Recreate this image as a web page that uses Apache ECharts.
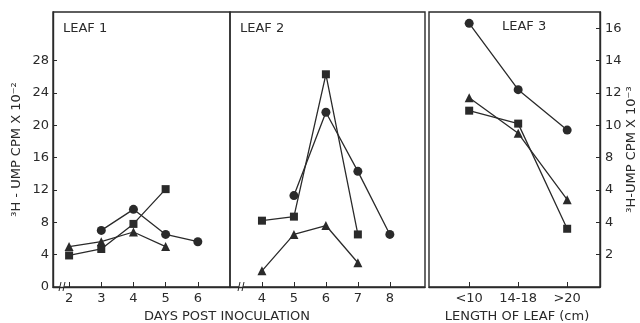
<!DOCTYPE html>
<html>
<head>
<meta charset="utf-8">
<script src="https://cdn.jsdelivr.net/npm/echarts@6/dist/echarts.min.js"></script>
<style>
  html, body { margin: 0; background: #fff; }
  #chart { width: 640px; height: 323px; }
</style>
</head>
<body>
<div id="chart"></div>
<script>
// leaf 1 : days post inoculation, left scale (CPM x 10^-2)
const leaf1Days = [2, 3, 4, 5, 6];
const leaf1Circle = [null, 7.0, 9.6, 6.5, 5.6];
const leaf1Square = [3.9, 4.7, 7.8, 12.1, null];
const leaf1Triangle = [5.0, 5.6, 6.8, 5.0, null];

// leaf 2 : days post inoculation, left scale
const leaf2Days = [4, 5, 6, 7, 8];
const leaf2Circle = [null, 11.3, 21.6, 14.3, 6.5];
const leaf2Square = [8.2, 8.7, 26.3, 6.5, null];
const leaf2Triangle = [2.0, 6.5, 7.6, 3.0, null];

// leaf 3 : length of leaf, right scale (CPM x 10^-3)
const leaf3Lengths = ["<10", "14-18", ">20"];
const leaf3Circle = [16.3, 12.2, 9.7];
const leaf3Square = [10.9, 10.1, 3.6];
const leaf3Triangle = [11.7, 9.5, 5.4];

// tick labels
const leftTicks = [0, 4, 8, 12, 16, 20, 24, 28];
const rightTicks = [2, 4, 6, 8, 10, 12, 14, 16];
const rightTickLabels = ["2", "4", "4", "8", "10", "12", "14", "16"];

const ink = "#2a2a2a";
const font = "DejaVu Sans";

const pairs = (xs, ys) =>
  xs.map((x, i) => [x, ys[i]]).filter((p) => p[1] != null);

const myChart = echarts.init(document.getElementById("chart"));

const line = (name, symbol, size, xi, data) => ({
  name,
  type: "line",
  xAxisIndex: xi,
  yAxisIndex: xi,
  symbol,
  symbolSize: size,
  data,
  lineStyle: { color: ink, width: 1.3 },
  itemStyle: { color: ink },
  animation: false,
});

const xBase = {
  type: "value",
  splitLine: { show: false },
  axisLine: { show: true, onZero: false, lineStyle: { color: ink, width: 1.4 } },
  axisTick: { show: true, inside: true, length: 5, lineStyle: { color: ink } },
  axisLabel: { color: ink, fontSize: 13, fontFamily: font, margin: 5 },
};

const options = {
  animation: false,
  grid: [
    { left: 53, top: 12, width: 177, height: 275, show: true, borderColor: ink, borderWidth: 1.4 },
    { left: 230, top: 12, width: 195, height: 275, show: true, borderColor: ink, borderWidth: 1.4 },
    { left: 429, top: 12, width: 171, height: 275, show: true, borderColor: ink, borderWidth: 1.4 },
  ],
  xAxis: [
    {
      ...xBase, gridIndex: 0, min: 1.5, max: 7,
      axisTick: { ...xBase.axisTick, customValues: leaf1Days },
      axisLabel: { ...xBase.axisLabel, customValues: leaf1Days },
    },
    {
      ...xBase, gridIndex: 1, min: 3, max: 9.1,
      axisTick: { ...xBase.axisTick, customValues: leaf2Days },
      axisLabel: { ...xBase.axisLabel, customValues: leaf2Days },
    },
    {
      ...xBase, gridIndex: 2, min: -0.82, max: 2.67,
      axisTick: { ...xBase.axisTick, customValues: [0, 1, 2] },
      axisLabel: {
        ...xBase.axisLabel,
        customValues: [0, 1, 2],
        formatter: (v) => leaf3Lengths[Math.round(v)],
      },
    },
  ],
  yAxis: [
    {
      type: "value", gridIndex: 0, min: 0, max: 34,
      splitLine: { show: false },
      axisLine: { show: true, onZero: false, lineStyle: { color: ink, width: 1.4 } },
      axisTick: { show: true, inside: true, length: 4, customValues: leftTicks, lineStyle: { color: ink } },
      axisLabel: { color: ink, fontSize: 13, fontFamily: font, margin: 4, customValues: leftTicks },
      name: "³H - UMP CPM X 10⁻²",
      nameLocation: "middle",
      nameRotate: 90,
      nameGap: 30,
      nameTextStyle: { color: ink, fontSize: 13, fontFamily: font },
    },
    { type: "value", gridIndex: 1, min: 0, max: 34, show: false },
    {
      type: "value", gridIndex: 2, min: 0, max: 17, position: "right",
      splitLine: { show: false },
      axisLine: { show: true, onZero: false, lineStyle: { color: ink, width: 1.4 } },
      axisTick: { show: true, inside: true, length: 4, customValues: rightTicks, lineStyle: { color: ink } },
      axisLabel: {
        color: ink, fontSize: 13, fontFamily: font, margin: 5,
        customValues: rightTicks,
        formatter: (v) => rightTickLabels[rightTicks.indexOf(v)],
      },
      name: "³H-UMP CPM X 10⁻³",
      nameLocation: "middle",
      nameRotate: 90,
      nameGap: 18,
      nameTextStyle: { color: ink, fontSize: 13, fontFamily: font },
    },
  ],
  graphic: [
    { type: "text", left: 63, top: 22, style: { text: "LEAF 1", fill: ink, font: "13px " + font } },
    { type: "text", left: 240, top: 22, style: { text: "LEAF 2", fill: ink, font: "13px " + font } },
    { type: "text", left: 502, top: 20, style: { text: "LEAF 3", fill: ink, font: "13px " + font } },
    { type: "text", x: 227, y: 310, style: { text: "DAYS POST INOCULATION", fill: ink, font: "13px " + font, align: "center" } },
    { type: "text", x: 517, y: 310, style: { text: "LENGTH OF LEAF (cm)", fill: ink, font: "13px " + font, align: "center" } },
    // axis break marks
    { type: "rect", shape: { x: 60, y: 283, width: 4, height: 8 }, style: { fill: "#fff" } },
    { type: "line", shape: { x1: 59, y1: 291, x2: 61, y2: 282 }, style: { stroke: ink, lineWidth: 1 } },
    { type: "line", shape: { x1: 63, y1: 291, x2: 65, y2: 282 }, style: { stroke: ink, lineWidth: 1 } },
    { type: "rect", shape: { x: 239, y: 283, width: 4, height: 8 }, style: { fill: "#fff" } },
    { type: "line", shape: { x1: 238, y1: 291, x2: 240, y2: 282 }, style: { stroke: ink, lineWidth: 1 } },
    { type: "line", shape: { x1: 242, y1: 291, x2: 244, y2: 282 }, style: { stroke: ink, lineWidth: 1 } },
  ],
  series: [
    line("leaf1 circle", "circle", 9, 0, pairs(leaf1Days, leaf1Circle)),
    line("leaf1 square", "rect", 8, 0, pairs(leaf1Days, leaf1Square)),
    line("leaf1 triangle", "triangle", 9, 0, pairs(leaf1Days, leaf1Triangle)),
    line("leaf2 circle", "circle", 9, 1, pairs(leaf2Days, leaf2Circle)),
    line("leaf2 square", "rect", 8, 1, pairs(leaf2Days, leaf2Square)),
    line("leaf2 triangle", "triangle", 9, 1, pairs(leaf2Days, leaf2Triangle)),
    line("leaf3 circle", "circle", 9, 2, pairs([0, 1, 2], leaf3Circle)),
    line("leaf3 square", "rect", 8, 2, pairs([0, 1, 2], leaf3Square)),
    line("leaf3 triangle", "triangle", 9, 2, pairs([0, 1, 2], leaf3Triangle)),
  ],
};

myChart.setOption(options);
</script>
</body>
</html>
